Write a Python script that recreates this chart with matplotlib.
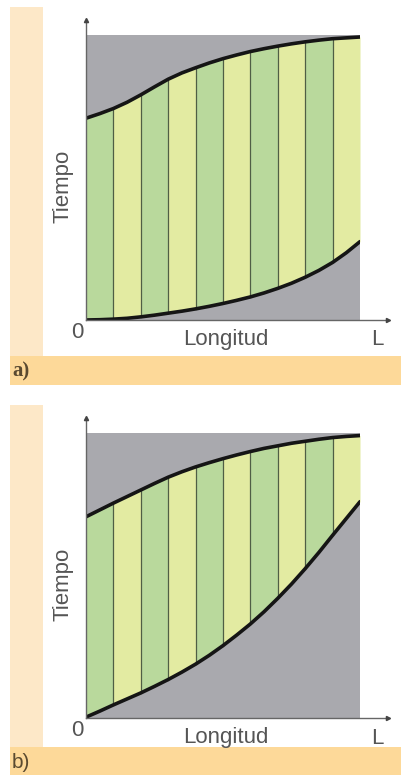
import numpy as np
import matplotlib
matplotlib.use("Agg")
import matplotlib.pyplot as plt
from matplotlib.patches import Rectangle

# ── data (fraction of L, fraction of total time), read every 0.05 L ───────────
x = [0.00, 0.05, 0.10, 0.15, 0.20, 0.25, 0.30, 0.35, 0.40, 0.45, 0.50,
     0.55, 0.60, 0.65, 0.70, 0.75, 0.80, 0.85, 0.90, 0.95, 1.00]
upper_a = [0.708, 0.724, 0.742, 0.764, 0.790, 0.818, 0.845, 0.867, 0.885, 0.902, 0.917,
           0.930, 0.942, 0.952, 0.961, 0.969, 0.976, 0.982, 0.987, 0.990, 0.993]
lower_a = [0.000, 0.001, 0.003, 0.006, 0.011, 0.017, 0.024, 0.031, 0.039, 0.048, 0.058,
           0.069, 0.081, 0.095, 0.111, 0.129, 0.150, 0.174, 0.202, 0.236, 0.275]
upper_b = [0.706, 0.730, 0.754, 0.777, 0.800, 0.823, 0.845, 0.864, 0.881, 0.896, 0.910,
           0.923, 0.935, 0.946, 0.955, 0.964, 0.971, 0.978, 0.984, 0.988, 0.991]
lower_b = [0.003, 0.024, 0.046, 0.067, 0.088, 0.111, 0.135, 0.161, 0.189, 0.220, 0.254,
           0.291, 0.330, 0.373, 0.420, 0.470, 0.524, 0.581, 0.641, 0.700, 0.759]
panel_labels = ["a)", "b)"]
n_strips = 10

GRAY = "#a9a9ae"
GREEN = "#b9d99c"
YELLOW = "#e3eba2"
STRIP = "#fde8c8"
BAR = "#fdd999"
TXT = "#555555"

W, H = 401, 782
fig = plt.figure(figsize=(W / 100, H / 100), dpi=100)
fig.patch.set_facecolor("white")

# background decorations in pixel coords
bg = fig.add_axes([0, 0, 1, 1])
bg.set_xlim(0, W)
bg.set_ylim(H, 0)
bg.axis("off")
bg.add_patch(Rectangle((10, 7), 33, 349, color=STRIP, lw=0))
bg.add_patch(Rectangle((10, 356), 391, 29, color=BAR, lw=0))
bg.add_patch(Rectangle((10, 405), 33, 342, color=STRIP, lw=0))
bg.add_patch(Rectangle((10, 747), 391, 28, color=BAR, lw=0))


def panel(top, upper, lower, label, label_y):
    left, width, height = 86, 274, 285
    ax = fig.add_axes([left / W, 1 - (top + height) / H, width / W, height / H])
    ax.set_xlim(0, 1)
    ax.set_ylim(0, 1)
    ax.axis("off")
    ax.add_patch(Rectangle((0, 0), 1, 1, color=GRAY, lw=0))
    step = (len(x) - 1) // n_strips
    for i in range(n_strips):
        s = slice(i * step, (i + 1) * step + 1)
        col = GREEN if i % 2 == 0 else YELLOW
        ax.fill_between(x[s], lower[s], upper[s], color=col, lw=0)
    for i in range(1, n_strips):
        k = i * step
        ax.plot([x[k], x[k]], [lower[k], upper[k]], color="#4f5e45", lw=0.9)
    for curve in (upper, lower):
        ax.plot(x, curve, color="#151515", lw=2.6, solid_capstyle="round",
                solid_joinstyle="round")
    # axes lines with small arrow heads
    ax.plot([0, 1.102], [0, 0], color="#666666", lw=1, clip_on=False)
    ax.plot([0, 0], [0, 1.053], color="#666666", lw=1, clip_on=False)
    ax.plot(1.102, 0, marker=">", ms=3, color="#444444", clip_on=False)
    ax.plot(0, 1.053, marker="^", ms=3, color="#444444", clip_on=False)

    bottom = top + height
    kw = dict(family="Liberation Sans", color=TXT, fontsize=16)
    fig.text(63 / W, 1 - (top + 151) / H, "Tiempo", rotation=90,
             ha="center", va="center", **kw)
    fig.text(77 / W, 1 - (bottom + 13) / H, "0", ha="center", va="center", **kw)
    fig.text(226 / W, 1 - (bottom + 20) / H, "Longitud", ha="center",
             va="center", **kw)
    fig.text(377 / W, 1 - (bottom + 20) / H, "L", ha="center", va="center", **kw)
    fig.text(12 / W, 1 - label_y / H, label, ha="left", va="center",
             family="Liberation Serif" if label == "a)" else "Liberation Sans",
             fontsize=15, color="#5a4a30",
             fontweight="bold" if label == "a)" else "normal")


panel(35, upper_a, lower_a, panel_labels[0], 371)
panel(433, upper_b, lower_b, panel_labels[1], 762)

fig.savefig("out.png", dpi=100)
